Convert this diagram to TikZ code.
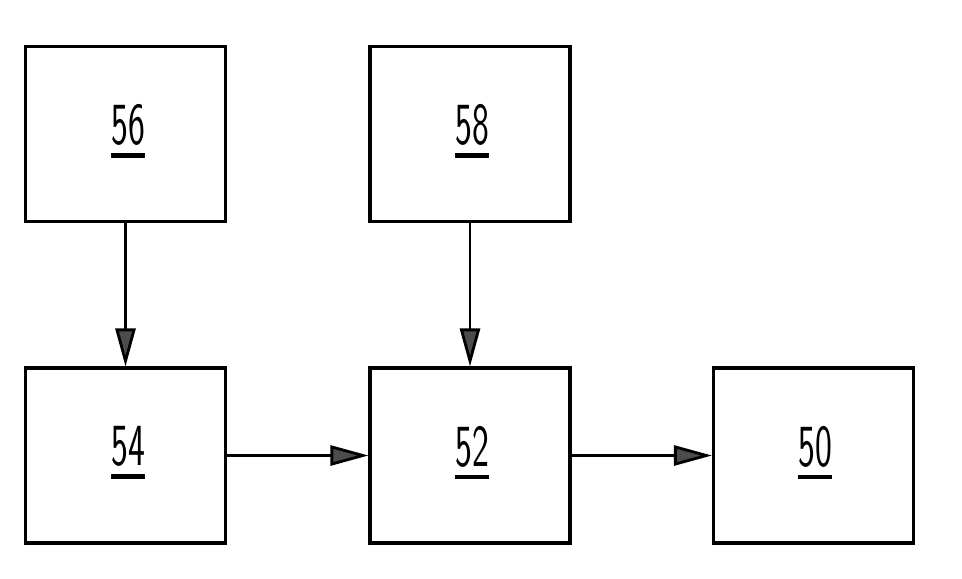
\documentclass[tikz,border=0pt]{standalone}
\usepackage{graphicx}
\usetikzlibrary{arrows.meta}
\newcommand{\refnum}[1]{\scalebox{0.6}[1]{\vtop{\hbox{#1}\kern0.13em\hrule height 0.07em}}}
\begin{document}
\begin{tikzpicture}[x=0.02cm,y=-0.02cm]
\tikzstyle{block}=[draw=black,line width=1.8pt,minimum width=4cm,minimum height=3.5cm,inner sep=0pt]
\tikzstyle{num}=[font=\sffamily\fontsize{34}{34}\selectfont,inner sep=0pt]
\tikzstyle{flow}=[line width=1.6pt,-{Triangle[length=0.76cm,width=0.4cm,fill=black!70]}]
\useasboundingbox (0,0) rectangle (962,578);
\node [block] (b56) at (125.5,134) {};
\node [block] (b58) at (470,134) {};
\node [block] (b54) at (125.5,455.5) {};
\node [block] (b52) at (470,455.5) {};
\node [block] (b50) at (813.5,455.5) {};
\node [num] (t56) at (128,131) {\refnum{56}};
\node [num] (t58) at (472,131) {\refnum{58}};
\node [num] (t54) at (128,452.5) {\refnum{54}};
\node [num] (t52) at (472,452.5) {\refnum{52}};
\node [num] (t50) at (815,452.5) {\refnum{50}};
\draw [flow] (b56) -- (b54);
\draw [flow] (b58) -- (b52);
\draw [flow] (b54) -- (b52);
\draw [flow] (b52) -- (b50);
\end{tikzpicture}
\end{document}
